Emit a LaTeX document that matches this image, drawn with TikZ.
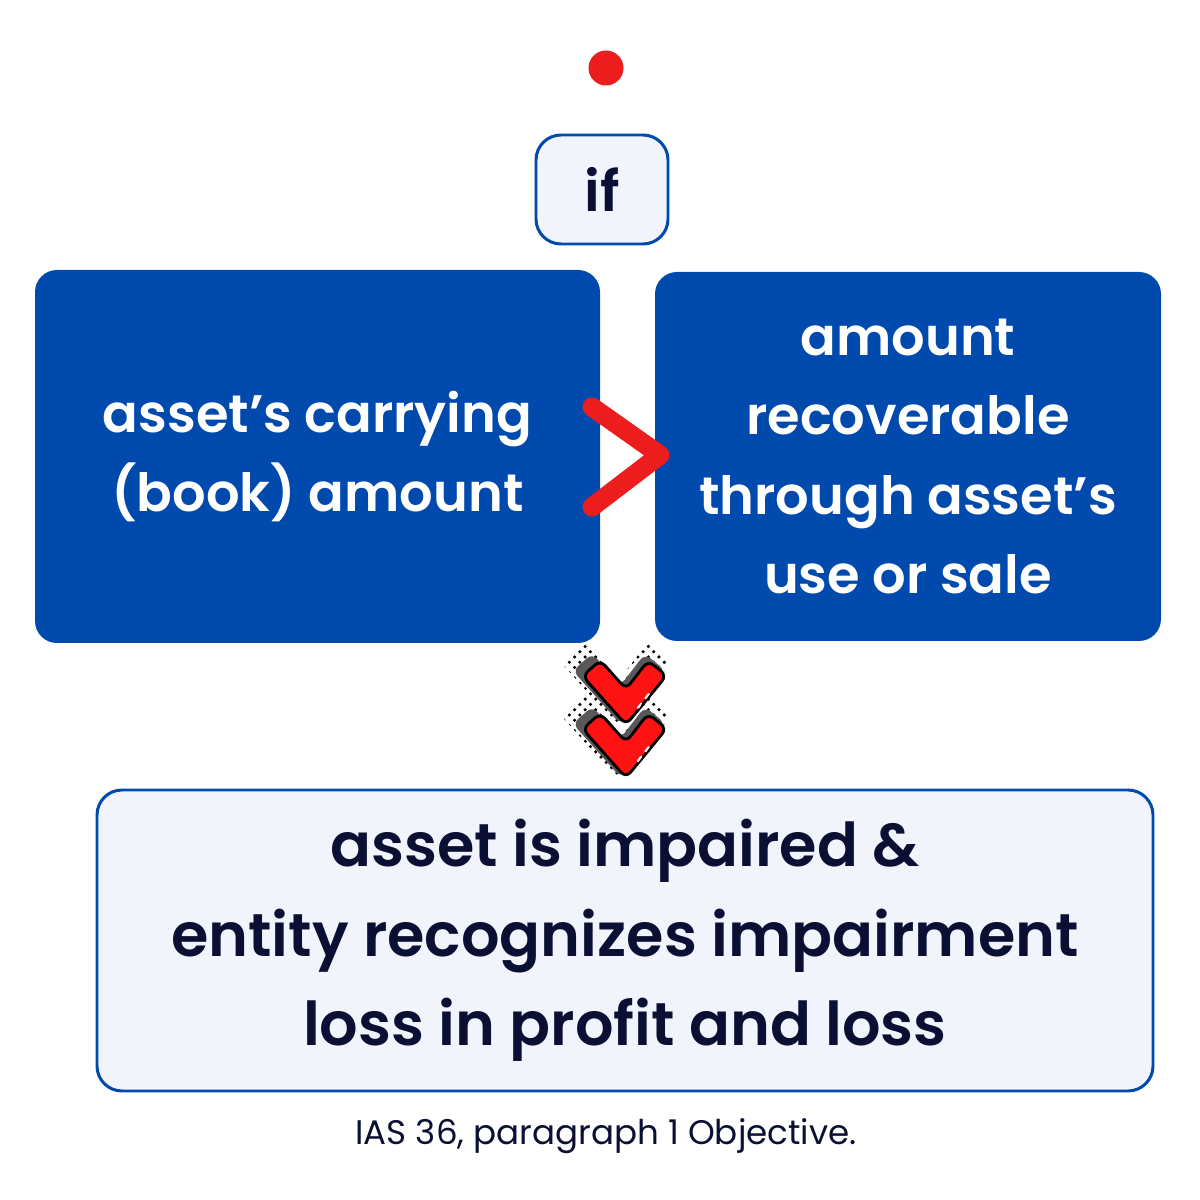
\documentclass[tikz,border=0pt]{standalone}
\usepackage{fontspec}
\setmainfont{Poppins}[BoldFont={Poppins SemiBold}]
\usetikzlibrary{patterns}
\definecolor{boxblue}{HTML}{004AAD}
\definecolor{paleblue}{HTML}{F2F4FB}
\definecolor{inkblue}{HTML}{0B0F33}
\definecolor{signred}{HTML}{EE1D1D}
\definecolor{chevred}{HTML}{FF1212}

\begin{document}
\begin{tikzpicture}[x=1cm,y=1cm,
  bluebox/.style={fill=boxblue,text=white,rounded corners=0.22cm,align=center,inner sep=0pt,font=\fontsize{15}{22.5}\selectfont\bfseries},
  palebox/.style={draw=boxblue,line width=0.85pt,fill=paleblue,text=inkblue,rounded corners=0.25cm,align=center,inner sep=0pt}]
\useasboundingbox (0,0) rectangle (12,12);
% red dot on top
\fill[signred] (6.06,11.32) circle (0.175);
\node[palebox,minimum width=1.32cm,minimum height=1.09cm,font=\fontsize{16}{18}\selectfont\bfseries] (if) at (6.02,10.105) {if};
\node[bluebox,minimum width=5.65cm,minimum height=3.73cm] (carrying) at (3.175,7.435) {asset’s carrying\\(book) amount};
\node[bluebox,minimum width=5.06cm,minimum height=3.69cm] (recoverable) at (9.08,7.435) {amount\\recoverable\\through asset’s\\use or sale};
% greater than sign
\draw[signred,line width=0.19cm,line cap=round,line join=round] (5.92,7.93) -- (6.6,7.45) -- (5.92,6.93);
% double chevron
\foreach \cy in {4.93,4.40} {
  \begin{scope}[shift={(6.26,\cy)},scale=1.08]
    \fill[pattern=crosshatch dots,pattern color=black,shift={(-0.07,0.03)},scale=1.3] (-0.402,0.287) -- (0,-0.165) -- (0.376,0.291) -- (0.204,0.429) -- (0,0.165) -- (-0.238,0.433) -- cycle;
    \fill[black!65,shift={(-0.05,0.02)},scale=1.1,rounded corners=2pt] (-0.402,0.287) -- (0,-0.165) -- (0.376,0.291) -- (0.204,0.429) -- (0,0.165) -- (-0.238,0.433) -- cycle;
    \draw[fill=chevred,line width=0.8pt,rounded corners=2pt] (-0.402,0.287) -- (0,-0.165) -- (0.376,0.291) -- (0.204,0.429) -- (0,0.165) -- (-0.238,0.433) -- cycle;
    \draw[white,line width=0.6pt,line cap=round] (0.11,-0.01) -- (0.14,0.03) (0.18,0.08) -- (0.21,0.12);
  \end{scope}
}
\node[palebox,minimum width=10.56cm,minimum height=3.01cm,font=\fontsize{17.2}{25.5}\selectfont\bfseries] (impaired) at (6.25,2.595) {asset is impaired \&\\entity recognizes impairment\\loss in profit and loss};
\node[text=inkblue,font=\fontsize{9.7}{12}\selectfont] (source) at (6.06,0.64) {IAS 36, paragraph 1 Objective.};
\end{tikzpicture}
\end{document}
